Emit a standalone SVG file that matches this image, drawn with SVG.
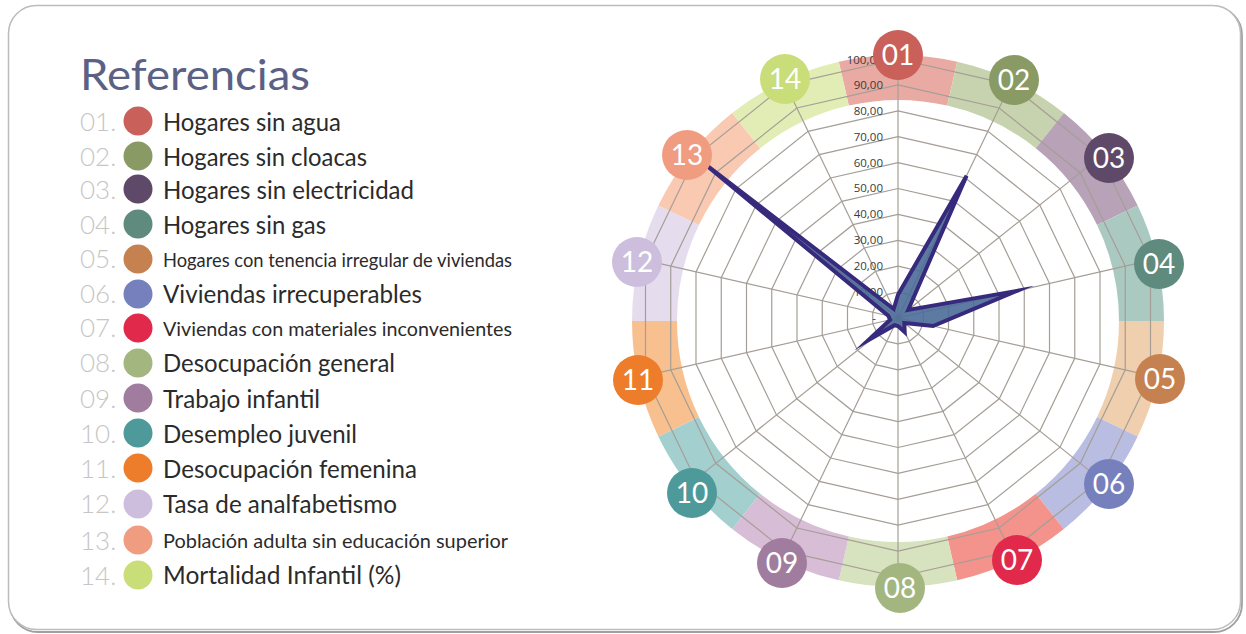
<svg xmlns="http://www.w3.org/2000/svg" xmlns:xlink="http://www.w3.org/1999/xlink" width="1246" height="634" viewBox="0 0 1246 634">
<style>
.lt{font-family:Lato,"Open Sans","Liberation Sans",sans-serif;fill:#2b2b2b;font-size:24.5px}
.lc{font-family:Lato,"Open Sans","Liberation Sans",sans-serif;fill:#2b2b2b;font-size:20px}
.ln{font-family:Lato,"Open Sans","Liberation Sans",sans-serif;fill:#c6c6c6;font-size:26px;font-weight:300}
.cn{font-family:Lato,"Open Sans","Liberation Sans",sans-serif;fill:#ffffff;font-size:28px;text-anchor:middle}
.tk{font-family:"Open Sans","Liberation Sans",sans-serif;fill:#3a3a3a;font-size:11.5px;text-anchor:end}
.grid{fill:none;stroke:#a59e97;stroke-width:1.2}
.ring{fill:none;stroke:#a59e97;stroke-width:1.2;vector-effect:non-scaling-stroke}
</style>
<defs>
<polygon id="ring" points="0,-1 0.43388,-0.90097 0.78183,-0.62349 0.97493,-0.22252 0.97493,0.22252 0.78183,0.62349 0.43388,0.90097 0,1 -0.43388,0.90097 -0.78183,0.62349 -0.97493,0.22252 -0.97493,-0.22252 -0.78183,-0.62349 -0.43388,-0.90097" vector-effect="non-scaling-stroke"/>
</defs>
<rect x="0" y="0" width="1246" height="634" fill="#ffffff"/>
<rect x="10" y="7" width="1232" height="625" rx="28" fill="none" stroke="#a0a0a0" stroke-width="1.8"/>
<rect x="8.5" y="5.5" width="1232" height="624" rx="28" fill="#ffffff" stroke="#bcbcbc" stroke-width="1.5"/>

<g id="legend">
<text x="80" y="90" font-family="Lato,'Open Sans','Liberation Sans',sans-serif" font-size="42" fill="#5b6184" textLength="230" lengthAdjust="spacingAndGlyphs">Referencias</text>
</g>
<g id="legend-items">
<g id="item01"><text class="ln" x="80" y="131">01.</text><circle cx="138" cy="121" r="14.5" fill="#c9605a"/><text class="lt" x="163" y="131" textLength="178" lengthAdjust="spacingAndGlyphs">Hogares sin agua</text></g>
<g id="item02"><text class="ln" x="80" y="166">02.</text><circle cx="138" cy="156" r="14.5" fill="#8a9a64"/><text class="lt" x="163" y="166" textLength="204" lengthAdjust="spacingAndGlyphs">Hogares sin cloacas</text></g>
<g id="item03"><text class="ln" x="80" y="199">03.</text><circle cx="138" cy="189" r="14.5" fill="#5e4a68"/><text class="lt" x="163" y="199" textLength="251" lengthAdjust="spacingAndGlyphs">Hogares sin electricidad</text></g>
<g id="item04"><text class="ln" x="80" y="234">04.</text><circle cx="138" cy="224" r="14.5" fill="#5f8a7e"/><text class="lt" x="163" y="234" textLength="163" lengthAdjust="spacingAndGlyphs">Hogares sin gas</text></g>
<g id="item05"><text class="ln" x="80" y="268">05.</text><circle cx="138" cy="259" r="14.5" fill="#c68150"/><text class="lc" x="163" y="267" textLength="349" lengthAdjust="spacingAndGlyphs">Hogares con tenencia irregular de viviendas</text></g>
<g id="item06"><text class="ln" x="80" y="303">06.</text><circle cx="138" cy="294" r="14.5" fill="#7680bd"/><text class="lt" x="163" y="303" textLength="259" lengthAdjust="spacingAndGlyphs">Viviendas irrecuperables</text></g>
<g id="item07"><text class="ln" x="80" y="337">07.</text><circle cx="138" cy="328" r="14.5" fill="#e0294b"/><text class="lc" x="163" y="336" textLength="349" lengthAdjust="spacingAndGlyphs">Viviendas con materiales inconvenientes</text></g>
<g id="item08"><text class="ln" x="80" y="372">08.</text><circle cx="138" cy="363" r="14.5" fill="#a4b680"/><text class="lt" x="163" y="372" textLength="232" lengthAdjust="spacingAndGlyphs">Desocupación general</text></g>
<g id="item09"><text class="ln" x="80" y="408">09.</text><circle cx="138" cy="398" r="14.5" fill="#a07d9e"/><text class="lt" x="163" y="408" textLength="157" lengthAdjust="spacingAndGlyphs">Trabajo infantil</text></g>
<g id="item10"><text class="ln" x="80" y="443">10.</text><circle cx="138" cy="433" r="14.5" fill="#4e9a9a"/><text class="lt" x="163" y="443" textLength="194" lengthAdjust="spacingAndGlyphs">Desempleo juvenil</text></g>
<g id="item11"><text class="ln" x="80" y="478">11.</text><circle cx="138" cy="468" r="14.5" fill="#ee7d2b"/><text class="lt" x="163" y="478" textLength="254" lengthAdjust="spacingAndGlyphs">Desocupación femenina</text></g>
<g id="item12"><text class="ln" x="80" y="513">12.</text><circle cx="138" cy="504" r="14.5" fill="#cdbedd"/><text class="lt" x="163" y="513" textLength="234" lengthAdjust="spacingAndGlyphs">Tasa de analfabetismo</text></g>
<g id="item13"><text class="ln" x="80" y="550">13.</text><circle cx="138" cy="540" r="14.5" fill="#f09c80"/><text class="lc" x="163" y="548" textLength="345" lengthAdjust="spacingAndGlyphs">Población adulta sin educación superior</text></g>
<g id="item14"><text class="ln" x="80" y="585">14.</text><circle cx="138" cy="575" r="14.5" fill="#c9dd78"/><text class="lt" x="163" y="584" textLength="238" lengthAdjust="spacingAndGlyphs">Mortalidad Infantil (%)</text></g>
</g>

<g id="bands" transform="translate(898 321)">
<path fill="#e8aaa2" d="M-59.19,-259.33 A266,266 0 0 1 59.19,-259.33 L49.18,-215.46 A221,221 0 0 0 -49.18,-215.46 Z"/>
<path fill="#c6d3ae" d="M59.19,-259.33 A266,266 0 0 1 165.85,-207.97 L137.79,-172.78 A221,221 0 0 0 49.18,-215.46 Z"/>
<path fill="#b7a2b7" d="M165.85,-207.97 A266,266 0 0 1 239.66,-115.41 L199.11,-95.89 A221,221 0 0 0 137.79,-172.78 Z"/>
<path fill="#aacac1" d="M239.66,-115.41 A266,266 0 0 1 266,0 L221,0 A221,221 0 0 0 199.11,-95.89 Z"/>
<path fill="#f0cfae" d="M266,0 A266,266 0 0 1 239.66,115.41 L199.11,95.89 A221,221 0 0 0 221,0 Z"/>
<path fill="#babde2" d="M239.66,115.41 A266,266 0 0 1 165.85,207.97 L137.79,172.78 A221,221 0 0 0 199.11,95.89 Z"/>
<path fill="#f3938c" d="M165.85,207.97 A266,266 0 0 1 59.19,259.33 L49.18,215.46 A221,221 0 0 0 137.79,172.78 Z"/>
<path fill="#d7e2be" d="M59.19,259.33 A266,266 0 0 1 -59.19,259.33 L-49.18,215.46 A221,221 0 0 0 49.18,215.46 Z"/>
<path fill="#d8bdd6" d="M-59.19,259.33 A266,266 0 0 1 -165.85,207.97 L-137.79,172.78 A221,221 0 0 0 -49.18,215.46 Z"/>
<path fill="#a4cfcf" d="M-165.85,207.97 A266,266 0 0 1 -239.66,115.41 L-199.11,95.89 A221,221 0 0 0 -137.79,172.78 Z"/>
<path fill="#f8c08f" d="M-239.66,115.41 A266,266 0 0 1 -266,0 L-221,0 A221,221 0 0 0 -199.11,95.89 Z"/>
<path fill="#e5ddee" d="M-266,0 A266,266 0 0 1 -239.66,-115.41 L-199.11,-95.89 A221,221 0 0 0 -221,0 Z"/>
<path fill="#f9c9b2" d="M-239.66,-115.41 A266,266 0 0 1 -165.85,-207.97 L-137.79,-172.78 A221,221 0 0 0 -199.11,-95.89 Z"/>
<path fill="#e2edb6" d="M-165.85,-207.97 A266,266 0 0 1 -59.19,-259.33 L-49.18,-215.46 A221,221 0 0 0 -137.79,-172.78 Z"/>
</g>

<g id="grid" transform="translate(898 318)">
<use xlink:href="#ring" class="ring" transform="scale(25.9)"/>
<use xlink:href="#ring" class="ring" transform="scale(51.8)"/>
<use xlink:href="#ring" class="ring" transform="scale(77.7)"/>
<use xlink:href="#ring" class="ring" transform="scale(103.6)"/>
<use xlink:href="#ring" class="ring" transform="scale(129.5)"/>
<use xlink:href="#ring" class="ring" transform="scale(155.4)"/>
<use xlink:href="#ring" class="ring" transform="scale(181.3)"/>
<use xlink:href="#ring" class="ring" transform="scale(207.2)"/>
<use xlink:href="#ring" class="ring" transform="scale(233.1)"/>
<use xlink:href="#ring" class="ring" transform="scale(259)"/>
<g class="grid">
<line x1="0" y1="0" x2="0" y2="-262"/>
<line x1="0" y1="0" x2="0" y2="-262" transform="rotate(25.7143)"/>
<line x1="0" y1="0" x2="0" y2="-262" transform="rotate(51.4286)"/>
<line x1="0" y1="0" x2="0" y2="-262" transform="rotate(77.1429)"/>
<line x1="0" y1="0" x2="0" y2="-262" transform="rotate(102.857)"/>
<line x1="0" y1="0" x2="0" y2="-262" transform="rotate(128.571)"/>
<line x1="0" y1="0" x2="0" y2="-262" transform="rotate(154.286)"/>
<line x1="0" y1="0" x2="0" y2="-262" transform="rotate(180)"/>
<line x1="0" y1="0" x2="0" y2="-262" transform="rotate(205.714)"/>
<line x1="0" y1="0" x2="0" y2="-262" transform="rotate(231.429)"/>
<line x1="0" y1="0" x2="0" y2="-262" transform="rotate(257.143)"/>
<line x1="0" y1="0" x2="0" y2="-262" transform="rotate(282.857)"/>
<line x1="0" y1="0" x2="0" y2="-262" transform="rotate(308.571)"/>
<line x1="0" y1="0" x2="0" y2="-262" transform="rotate(334.286)"/>
</g>
</g>

<g id="ticks">
<text class="tk" x="876" y="322">-</text>
<text class="tk" x="883" y="296">10,00</text>
<text class="tk" x="883" y="270.1">20,00</text>
<text class="tk" x="883" y="244.2">30,00</text>
<text class="tk" x="883" y="218.3">40,00</text>
<text class="tk" x="883" y="192.4">50,00</text>
<text class="tk" x="883" y="166.5">60,00</text>
<text class="tk" x="883" y="140.6">70,00</text>
<text class="tk" x="883" y="114.7">80,00</text>
<text class="tk" x="883" y="88.8">90,00</text>
<text class="tk" x="876" y="63.5">100,0</text>
</g>

<g id="data" transform="translate(898 318)">
<polygon points="0,-23.3 68.6,-142.3 10.2,-8.1 118.9,-27.1 35.1,8 6.3,5 6.7,14 0,8 -3.5,7.2 -29.5,22 -7.8,1.8 -9.7,-2.2 -197.8,-157.7 -4.3,-9" fill="#4b6b98" fill-opacity="0.9" stroke="#372a7c" stroke-width="4" stroke-linejoin="miter" stroke-miterlimit="10"/>
</g>

<g id="nodes">
<g id="n01"><circle cx="898" cy="55" r="25" fill="#c9605a"/><text class="cn" x="898" y="65">01</text></g>
<g id="n02"><circle cx="1014" cy="80" r="25" fill="#8a9a64"/><text class="cn" x="1014" y="90">02</text></g>
<g id="n03"><circle cx="1109" cy="158" r="25" fill="#5e4a68"/><text class="cn" x="1109" y="168">03</text></g>
<g id="n04"><circle cx="1159" cy="264" r="25" fill="#5f8a7e"/><text class="cn" x="1159" y="274">04</text></g>
<g id="n05"><circle cx="1160" cy="379" r="25" fill="#c68150"/><text class="cn" x="1160" y="389">05</text></g>
<g id="n06"><circle cx="1109" cy="484" r="25" fill="#7680bd"/><text class="cn" x="1109" y="494">06</text></g>
<g id="n07"><circle cx="1017" cy="560" r="25" fill="#e0294b"/><text class="cn" x="1017" y="570">07</text></g>
<g id="n08"><circle cx="900" cy="588" r="25" fill="#a4b680"/><text class="cn" x="900" y="598">08</text></g>
<g id="n09"><circle cx="782" cy="563" r="25" fill="#a07d9e"/><text class="cn" x="782" y="573">09</text></g>
<g id="n10"><circle cx="692" cy="493" r="25" fill="#4e9a9a"/><text class="cn" x="692" y="503">10</text></g>
<g id="n11"><circle cx="638" cy="380" r="25" fill="#ee7d2b"/><text class="cn" x="638" y="390">11</text></g>
<g id="n12"><circle cx="637" cy="262" r="25" fill="#cdbedd"/><text class="cn" x="637" y="272">12</text></g>
<g id="n13"><circle cx="687" cy="155" r="25" fill="#f09c80"/><text class="cn" x="687" y="165">13</text></g>
<g id="n14"><circle cx="785" cy="79" r="25" fill="#c9dd78"/><text class="cn" x="785" y="89">14</text></g>
</g>
</svg>
